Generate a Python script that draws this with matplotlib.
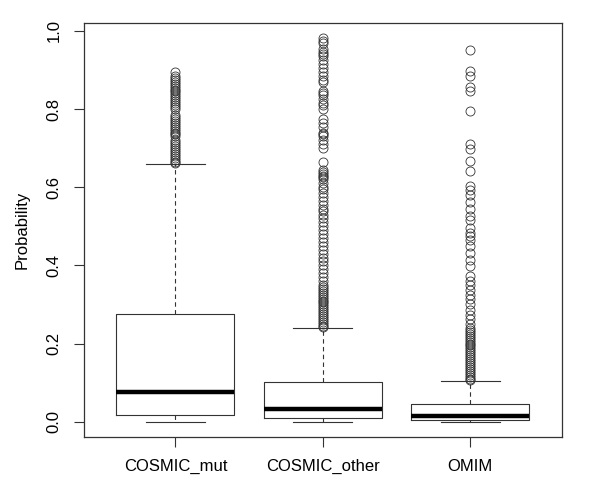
import numpy as np
import matplotlib
matplotlib.use("Agg")
import matplotlib.pyplot as plt

plt.rcParams['font.family'] = ['Liberation Sans', 'DejaVu Sans']

labels = ["COSMIC_mut", "COSMIC_other", "OMIM"]
q1 = [0.018, 0.010, 0.005]
med = [0.075, 0.032, 0.014]
q3 = [0.275, 0.101, 0.045]
whislo = [0.0, 0.0, 0.0]
whishi = [0.660, 0.240, 0.105]

mut_out = [0.895, 0.885, 0.88, 0.875, 0.87, 0.865, 0.86, 0.855, 0.85, 0.845,
           0.84, 0.835, 0.83, 0.825, 0.82, 0.815, 0.81, 0.805, 0.80, 0.785,
           0.78, 0.775, 0.77, 0.765, 0.76, 0.755, 0.75, 0.745, 0.74, 0.735,
           0.73, 0.72, 0.715, 0.71, 0.705, 0.70, 0.695, 0.69, 0.685, 0.68,
           0.675, 0.67, 0.665, 0.662]
other_out = [0.982, 0.975, 0.968, 0.955, 0.945, 0.94, 0.935, 0.925, 0.915,
             0.905, 0.895, 0.885, 0.875, 0.87, 0.845, 0.84, 0.835, 0.825,
             0.815, 0.81, 0.80, 0.775, 0.765, 0.755, 0.74, 0.735, 0.73, 0.72,
             0.71, 0.70, 0.665, 0.645, 0.64, 0.635, 0.63, 0.625, 0.62, 0.61,
             0.60, 0.595, 0.585, 0.575, 0.565, 0.555, 0.545, 0.54, 0.53, 0.52,
             0.51, 0.50, 0.49, 0.48, 0.47, 0.46, 0.45, 0.44, 0.43, 0.42, 0.41,
             0.40, 0.39, 0.38, 0.37, 0.36, 0.35, 0.345, 0.34, 0.335, 0.33,
             0.325, 0.32, 0.315, 0.31, 0.305, 0.30, 0.295, 0.29, 0.285, 0.28,
             0.275, 0.27, 0.265, 0.26, 0.255, 0.25, 0.245, 0.242]
omim_out = [0.951, 0.898, 0.885, 0.856, 0.847, 0.794, 0.710, 0.698, 0.666,
            0.641, 0.602, 0.594, 0.581, 0.562, 0.543, 0.527, 0.517, 0.496,
            0.483, 0.474, 0.466, 0.449, 0.432, 0.415, 0.398, 0.372, 0.359,
            0.351, 0.338, 0.325, 0.313, 0.300, 0.287, 0.274, 0.262, 0.249,
            0.24, 0.235, 0.23, 0.225, 0.22, 0.215, 0.21, 0.205, 0.20, 0.195,
            0.19, 0.185, 0.18, 0.175, 0.17, 0.165, 0.16, 0.155, 0.15, 0.145,
            0.14, 0.135, 0.13, 0.125, 0.12, 0.115, 0.11, 0.107]
fliers = [mut_out, other_out, omim_out]

stats = []
for i in range(3):
    stats.append(dict(label=labels[i], q1=q1[i], med=med[i], q3=q3[i],
                      whislo=whislo[i], whishi=whishi[i], fliers=fliers[i]))

fig = plt.figure(figsize=(6, 4.92), dpi=100)
ax = fig.add_axes([0.14, 0.112, 0.796, 0.841])

c = "#333333"
ax.bxp(stats, positions=[1, 2, 3], widths=0.8,
       boxprops=dict(color=c, linewidth=0.8),
       medianprops=dict(color="black", linewidth=3.2, solid_capstyle="butt"),
       whiskerprops=dict(color=c, linewidth=0.8, linestyle=(0, (4, 3))),
       capprops=dict(color=c, linewidth=0.8),
       capwidths=0.4,
       flierprops=dict(marker="o", markerfacecolor="none", markeredgecolor=c,
                       markersize=6.5, markeredgewidth=0.6, linestyle="none"))

ax.set_xlim(0.38, 3.62)
ax.set_ylim(-0.039, 1.02)
ax.set_yticks([0.0, 0.2, 0.4, 0.6, 0.8, 1.0])
ax.set_yticklabels(["0.0", "0.2", "0.4", "0.6", "0.8", "1.0"], rotation=90,
                   va="center")
ax.set_xticks([1, 2, 3])
ax.set_xticklabels(labels)
ax.tick_params(axis="both", length=7, width=0.8, color=c, labelsize=12, pad=9)
ax.set_ylabel("Probability", fontsize=12, labelpad=12)
for s in ax.spines.values():
    s.set_color(c)
    s.set_linewidth(0.9)

fig.savefig("out.png", dpi=100)
